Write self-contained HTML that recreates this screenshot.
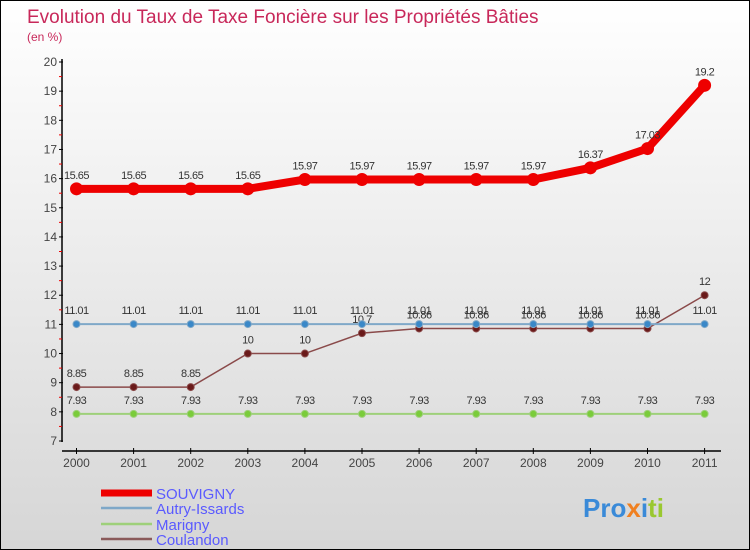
<!DOCTYPE html>
<html><head><meta charset="utf-8"><style>
body{margin:0}
#c{position:relative;width:748px;height:548px;border:1px solid #000;background:linear-gradient(#fff,#d6d6d6);font-family:"Liberation Sans",sans-serif;overflow:hidden}
svg text{font-family:"Liberation Sans",sans-serif}
</style></head><body>
<div id="c">
<svg id="s" width="748" height="548">
<text x="26" y="22" font-size="19" fill="#c8285a">Evolution du Taux de Taxe Foncière sur les Propriétés Bâties</text>
<text x="26" y="40" font-size="12" fill="#c8285a">(en %)</text>
<g id="ax"></g><g id="ser"></g>
<g>
<line x1="100" y1="492" x2="151" y2="492" stroke="#e00" stroke-width="7"/>
<text x="155" y="498" font-size="15" fill="#5a5aff">SOUVIGNY</text>
<line x1="100" y1="507" x2="151" y2="507" stroke="#7fa8c8" stroke-width="2.5"/>
<text x="155" y="513" font-size="15" fill="#5a5aff">Autry-Issards</text>
<line x1="100" y1="523" x2="151" y2="523" stroke="#9ed07a" stroke-width="2.5"/>
<text x="155" y="529" font-size="15" fill="#5a5aff">Marigny</text>
<line x1="100" y1="538" x2="151" y2="538" stroke="#8a5a5a" stroke-width="2.5"/>
<text x="155" y="544" font-size="15" fill="#5a5aff">Coulandon</text>
</g>
<text x="582" y="516" font-size="26" font-weight="bold"><tspan fill="#3a8ad8">Pro</tspan><tspan fill="#f08020">x</tspan><tspan fill="#3a8ad8">i</tspan><tspan fill="#9ac830">ti</tspan></text>
</svg></div>
<script>
const years=[2000,2001,2002,2003,2004,2005,2006,2007,2008,2009,2010,2011];
const souvigny=[15.65,15.65,15.65,15.65,15.97,15.97,15.97,15.97,15.97,16.37,17.03,19.2];
const autry=[11.01,11.01,11.01,11.01,11.01,11.01,11.01,11.01,11.01,11.01,11.01,11.01];
const marigny=[7.93,7.93,7.93,7.93,7.93,7.93,7.93,7.93,7.93,7.93,7.93,7.93];
const coulandon=[8.85,8.85,8.85,10,10,10.7,10.86,10.86,10.86,10.86,10.86,12];
const yTicks=[7,8,9,10,11,12,13,14,15,16,17,18,19,20];
const NS="http://www.w3.org/2000/svg";
const X=i=>75.5+57.1*i, Y=v=>440-(v-7)*(379/13);
function mk(t,a,p){const e=document.createElementNS(NS,t);for(const k in a)e.setAttribute(k,a[k]);p.appendChild(e);return e;}
const ax=document.getElementById('ax'),ser=document.getElementById('ser');
mk('line',{x1:61,y1:58,x2:61,y2:441,stroke:'#000','stroke-width':1.5},ax);
mk('line',{x1:61,y1:450,x2:720,y2:450,stroke:'#000','stroke-width':1.5},ax);
yTicks.forEach(v=>{
 mk('line',{x1:58,y1:Y(v),x2:62,y2:Y(v),stroke:'#000'},ax);
 if(v<20)mk('line',{x1:58,y1:Y(v+0.5),x2:61,y2:Y(v+0.5),stroke:'#e00'},ax);
 const t=mk('text',{x:56,y:Y(v)+4,'font-size':12,'text-anchor':'end',fill:'#444'},ax);t.textContent=v;
 
 
});
years.forEach((y,i)=>{
 mk('line',{x1:X(i),y1:447,x2:X(i),y2:453,stroke:'#000'},ax);
 const t=mk('text',{x:X(i),y:466,'font-size':12,'text-anchor':'middle',fill:'#444'},ax);t.textContent=y;
 
 
});
function series(d,name,col,w,r,fill,lab){
 const g=mk('g',{},ser);
 
 
 mk('polyline',{points:d.map((v,i)=>X(i)+','+Y(v)).join(' '),fill:'none',stroke:col,'stroke-width':w},g);
 d.forEach((v,i)=>{
  const c=mk('circle',{cx:X(i),cy:Y(v),r:r,fill:fill,stroke:col,'stroke-width':1},g);
  
  
  const t=mk('text',{x:X(i),y:Y(v)-10,'font-size':11,'text-anchor':'middle',fill:'#333','letter-spacing':'-0.5'},g);t.textContent=v;
 });
}
series(marigny,'marigny-series','#9ed07a',2,3.5,'#7acc3a');
series(coulandon,'coulandon-series','#8a4a4a',1.5,3.5,'#6a1a1a');
series(autry,'autry-series','#7fa8c8',2,3.5,'#3a88c8');
series(souvigny,'souvigny-series','#e00',8,6,'#e00');
</script>
</body></html>
